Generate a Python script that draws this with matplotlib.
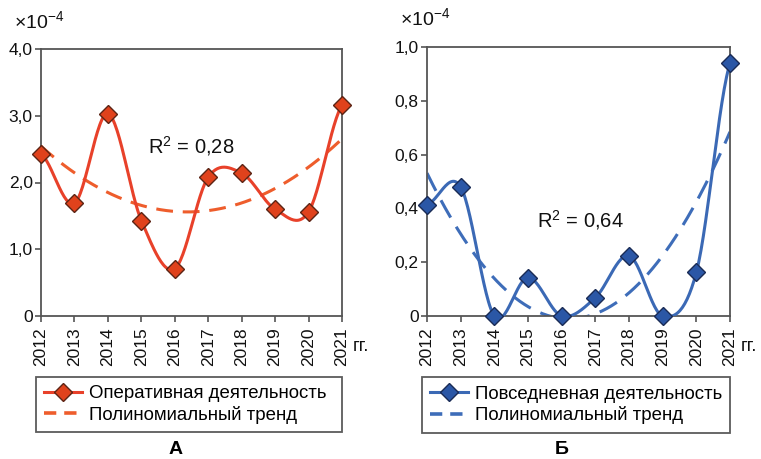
import numpy as np
import matplotlib
matplotlib.use("Agg")
import matplotlib.pyplot as plt
from matplotlib.lines import Line2D

plt.rcParams['font.family'] = ['Liberation Sans', 'DejaVu Sans']
plt.rcParams['mathtext.fontset'] = 'custom'
plt.rcParams['mathtext.rm'] = 'Liberation Sans'
plt.rcParams['mathtext.it'] = 'Liberation Sans'
plt.rcParams['mathtext.default'] = 'regular'

# ---- data (values in units of 1e-4) ----
years = [2012, 2013, 2014, 2015, 2016, 2017, 2018, 2019, 2020, 2021]
operational = [2.43, 1.69, 3.03, 1.43, 0.71, 2.08, 2.14, 1.60, 1.56, 3.16]
everyday = [0.414, 0.48, 0.0, 0.143, 0.0, 0.068, 0.224, 0.0, 0.162, 0.939]

ylabels_a = ["0", "1,0", "2,0", "3,0", "4,0"]
yticks_a = [0, 1, 2, 3, 4]
ylabels_b = ["0", "0,2", "0,4", "0,6", "0,8", "1,0"]
yticks_b = [0, 0.2, 0.4, 0.6, 0.8, 1.0]

r2_a = "0,28"
r2_b = "0,64"
legend_a = "Оперативная деятельность"
legend_b = "Повседневная деятельность"
legend_trend = "Полиномиальный тренд"

RED_LINE = "#e8412a"
RED_FILL = "#e0421c"
RED_EDGE = "#5c2414"
RED_TREND = "#ee5d2c"
BLUE_LINE = "#3b69b5"
BLUE_FILL = "#2b57a6"
BLUE_EDGE = "#1a2b55"
BLUE_TREND = "#3e6db9"
SPINE = "#555555"
TEXT = "#111111"


def smooth(x, y, n=30):
    """Catmull-Rom smoothed polyline through the points."""
    x = np.asarray(x, float)
    y = np.asarray(y, float)
    px = np.concatenate([[2 * x[0] - x[1]], x, [2 * x[-1] - x[-2]]])
    py = np.concatenate([[y[0]], y, [y[-1]]])
    xs, ys = [], []
    for i in range(1, len(px) - 2):
        p0 = np.array([px[i - 1], py[i - 1]])
        p1 = np.array([px[i], py[i]])
        p2 = np.array([px[i + 1], py[i + 1]])
        p3 = np.array([px[i + 2], py[i + 2]])
        c1 = p1 + (p2 - p0) / 6.0
        c2 = p2 - (p3 - p1) / 6.0
        t = np.linspace(0, 1, n)[:, None]
        b = ((1 - t) ** 3) * p1 + 3 * ((1 - t) ** 2) * t * c1 + 3 * (1 - t) * t ** 2 * c2 + t ** 3 * p2
        xs.append(b[:, 0])
        ys.append(b[:, 1])
    return np.concatenate(xs), np.concatenate(ys)


fig = plt.figure(figsize=(7.61, 4.59), dpi=100)
fig.patch.set_facecolor("white")

ax_a = fig.add_axes([41 / 761, (459 - 316) / 459, 301 / 761, 267 / 459])
ax_b = fig.add_axes([427 / 761, (459 - 316) / 459, 303 / 761, 269 / 459])


def panel(ax, y, ylim, yticks, ylabels, line_c, fill_c, edge_c, trend_c,
          r2, r2_pos, lab, trend_dashes):
    xs, ys = smooth(years, y)
    ax.plot(xs, ys, color=line_c, lw=2.2, solid_capstyle="round", zorder=3)
    ax.plot(years, y, ls="none", marker="D", ms=8.8, mfc=fill_c, mec=edge_c,
            mew=1.0, zorder=4, clip_on=False)
    coef = np.polyfit(years, y, 2)
    tx = np.linspace(years[0], years[-1], 200)
    ax.plot(tx, np.polyval(coef, tx), color=trend_c, lw=2.2,
            dashes=trend_dashes, zorder=2)

    ax.set_xlim(years[0], years[-1])
    ax.set_ylim(*ylim)
    ax.set_yticks(yticks)
    ax.set_yticklabels(ylabels)
    ax.set_xticks(years)
    ax.set_xticklabels([str(v) for v in years], rotation=90)
    ax.tick_params(axis="both", direction="out", length=4, width=1.2,
                   color=SPINE, labelcolor=TEXT)
    ax.tick_params(axis="x", pad=4, labelsize=12.5)
    ax.tick_params(axis="y", pad=2, labelsize=12.5)
    for s in ax.spines.values():
        s.set_color(SPINE)
        s.set_linewidth(1.3)

    ax.text(r2_pos[0], r2_pos[1], "R$^2$ = " + r2, transform=ax.transAxes,
            fontsize=14.5, ha="center", va="center", color=TEXT)
    ax.text(-0.09, 1.065, "×10$^{-4}$", transform=ax.transAxes, fontsize=14,
            ha="left", va="bottom", color=TEXT)
    ax.text(1.035, -0.115, "гг.", transform=ax.transAxes, fontsize=13.5,
            ha="left", va="center", color=TEXT)

    handles = [
        Line2D([], [], color=line_c, lw=2.2, marker="D", ms=8.8, mfc=fill_c,
               mec=edge_c, mew=1.0),
        Line2D([], [], color=trend_c, lw=2.6, dashes=(3.4, 2.2)),
    ]
    x0 = -5 / ax.bbox.width
    leg = ax.legend(handles, [lab, legend_trend], loc="upper left",
                    bbox_to_anchor=(x0, -0.228 - 0.1, 1.0 - x0, 0.1),
                    mode="expand", frameon=True, fancybox=False,
                    fontsize=13.4, handlelength=2.0, handletextpad=0.4,
                    borderpad=0.45, labelspacing=0.2, borderaxespad=0)
    leg.get_frame().set_edgecolor("#333333")
    leg.get_frame().set_linewidth(1.3)


panel(ax_a, operational, (0, 4), yticks_a, ylabels_a, RED_LINE, RED_FILL,
      RED_EDGE, RED_TREND, r2_a, (0.5, 0.637), legend_a, (5.5, 3.2))
panel(ax_b, everyday, (0, 1), yticks_b, ylabels_b, BLUE_LINE, BLUE_FILL,
      BLUE_EDGE, BLUE_TREND, r2_b, (0.505, 0.357), legend_b, (6.5, 3.5))

fig.text(176 / 761, 1 - 449 / 459, "А", fontsize=14, fontweight="bold",
         ha="center", va="center")
fig.text(562 / 761, 1 - 449 / 459, "Б", fontsize=14, fontweight="bold",
         ha="center", va="center")

fig.savefig("out.png", dpi=100, facecolor="white")
